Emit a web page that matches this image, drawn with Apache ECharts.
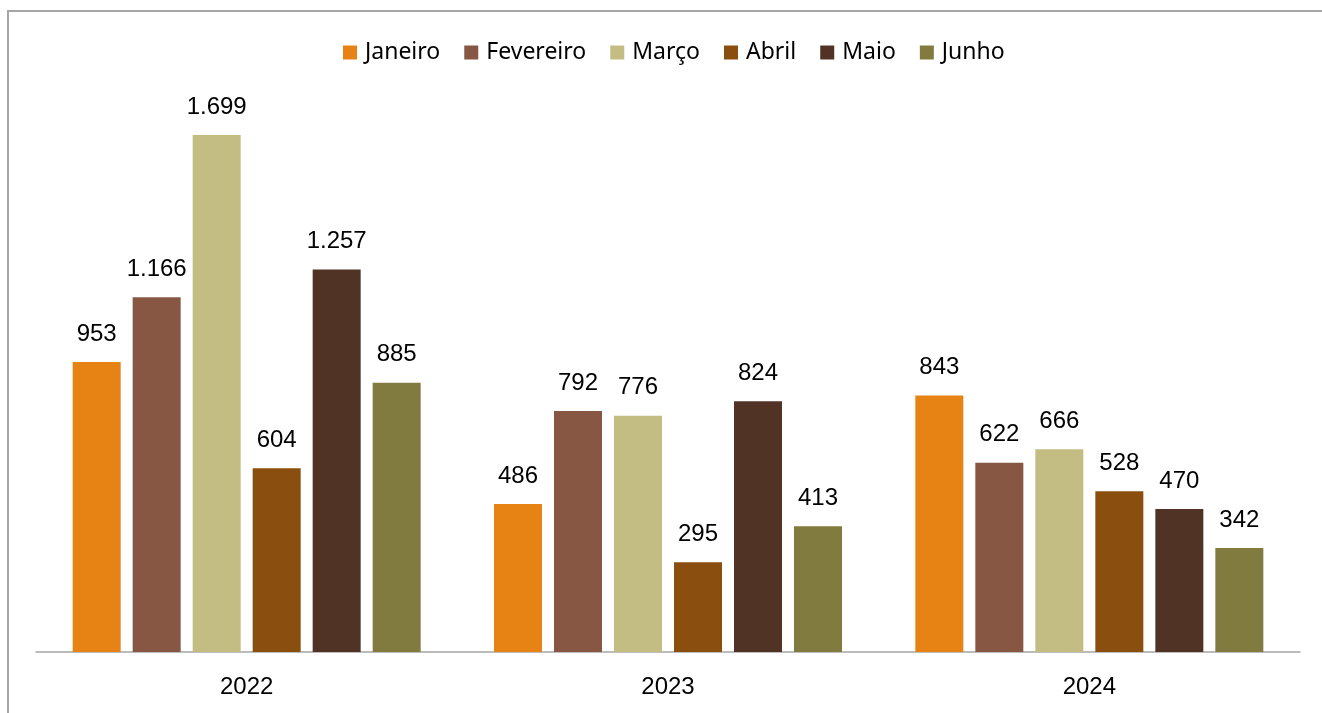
<!DOCTYPE html>
<html><head><meta charset="utf-8">
<script src="https://cdn.jsdelivr.net/npm/echarts@6/dist/echarts.min.js"></script>
<style>
html,body{margin:0;padding:0;background:#fff;overflow:hidden;}
#frame{position:absolute;left:7px;top:10px;width:1400px;height:800px;border-left:2px solid #a6a6a6;border-top:2px solid #a6a6a6;box-sizing:border-box;}
#c{position:absolute;left:0;top:0;width:1322px;height:713px;}
</style></head>
<body>
<div id="frame"></div>
<div id="c"></div>
<script>
const categories = ['2022', '2023', '2024'];
const seriesNames = ['Janeiro', 'Fevereiro', 'Março', 'Abril', 'Maio', 'Junho'];
const janeiro = [953, 486, 843];
const fevereiro = [1166, 792, 622];
const marco = [1699, 776, 666];
const abril = [604, 295, 528];
const maio = [1257, 824, 470];
const junho = [885, 413, 342];
const colors = ['#E68314', '#875743', '#C4BD83', '#8A4F0E', '#513326', '#827B40'];

const values = [janeiro, fevereiro, marco, abril, maio, junho];
const fmt = v => v.toLocaleString('de-DE');
const chart = echarts.init(document.getElementById('c'));
chart.setOption({
  animation: false,
  legend: {
    top: 36, left: 338, itemWidth: 14, itemHeight: 14, itemGap: 24,
    icon: 'rect',
    textStyle: { fontFamily: 'Noto Sans', fontSize: 23, color: '#000', padding: [0, 0, 0, 3] },
    data: seriesNames
  },
  grid: { left: 36, right: 22, top: 43.4, bottom: 61 },
  xAxis: {
    type: 'category', data: categories,
    axisLine: { lineStyle: { color: '#a6a6a6', width: 1.5 } },
    axisTick: { show: false },
    axisLabel: { fontFamily: 'Liberation Sans', fontSize: 24, color: '#000', margin: 23 }
  },
  yAxis: { type: 'value', min: 0, max: 2000, show: false, splitLine: { show: false } },
  series: seriesNames.map((n, i) => ({
    name: n, type: 'bar', data: values[i],
    barWidth: 48, barGap: '25%',
    itemStyle: { color: colors[i] },
    label: {
      show: true, position: 'top', distance: 16,
      fontFamily: 'Liberation Sans', fontSize: 24, color: '#000',
      formatter: p => fmt(p.value)
    }
  }))
});
</script>
</body></html>
